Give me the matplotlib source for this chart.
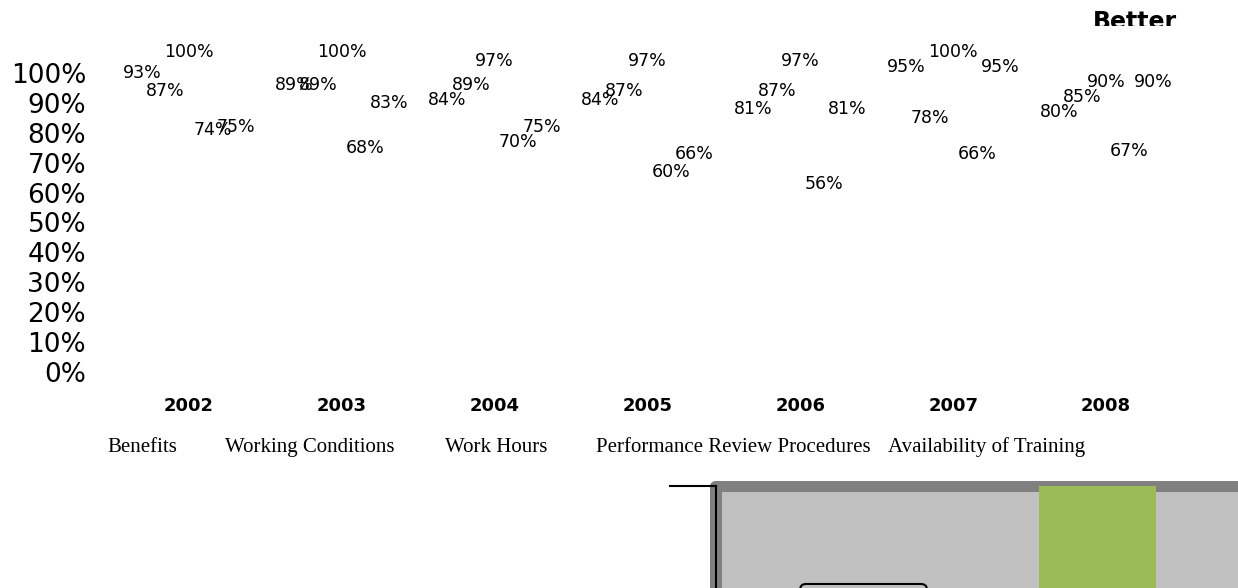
import matplotlib
matplotlib.use('Agg')
import numpy as np
from matplotlib import pyplot as plt
from matplotlib.patches import FancyBboxPatch
from matplotlib.lines import Line2D
from matplotlib.transforms import Bbox, TransformedBbox, IdentityTransform

years = ['2002', '2003', '2004', '2005', '2006', '2007', '2008']
series_names = ['Benefits', 'Working Conditions', 'Work Hours',
                'Performance Review Procedures', 'Availability of Training']
benefits = [93, 89, 84, 84, 81, 95, 80]
working_conditions = [87, 89, 89, 87, 87, 78, 85]
work_hours = [100, 100, 97, 97, 97, 100, 90]
performance_review = [74, 68, 70, 60, 56, 66, 67]
training = [75, 83, 75, 66, 81, 95, 90]
y_ticks = list(range(0, 101, 10))
green_value = [1.0]

W, H = 1238, 588
legend_left = [107, 225, 445, 596, 888]


def fx(px):
    return px / W


def fy(py):
    return 1 - py / H


def box(x0, y0, x1, y1, radius, **kw):
    # pixel coords measured from the top-left corner
    return FancyBboxPatch((x0, H - y1), x1 - x0, y1 - y0,
                          boxstyle=f'round,pad=0,rounding_size={radius}',
                          transform=IdentityTransform(), **kw)


fig = plt.figure(figsize=(12.38, 5.88), dpi=100)

# main chart: bars are invisible, only their labels show
ax = fig.add_axes([fx(112.5), fy(372), fx(1070), 299 / H])
all_series = [benefits, working_conditions, work_hours, performance_review, training]
x = np.arange(len(years))
bar_w = 0.154
for i, (name, vals) in enumerate(zip(series_names, all_series)):
    pos = x + (i - 2) * bar_w
    ax.bar(pos, vals, width=bar_w, color='none', label=name)
    for p, v in zip(pos, vals):
        ax.annotate(f'{v}%', (p, v), xytext=(0, 15), textcoords='offset points',
                    ha='center', va='center', fontsize=12.5, annotation_clip=False)

ax.set_xlim(-0.5, len(years) - 0.5)
ax.set_ylim(0, 100)
ax.set_yticks(y_ticks)
ax.set_yticklabels([f'{t}%' for t in y_ticks], fontsize=19)
ax.set_xticks(x)
ax.set_xticklabels(years, fontsize=13, fontweight='bold')
ax.tick_params(axis='y', length=0, pad=19)
ax.tick_params(axis='x', length=0, pad=18)
for s in ax.spines.values():
    s.set_visible(False)
ax.patch.set_visible(False)

# legend entries without keys, on one baseline
for name, left in zip(series_names, legend_left):
    fig.text(fx(left), fy(452), name, family='Liberation Serif', fontsize=15,
             ha='left', va='baseline')

better = fig.text(fx(1093), fy(10), 'Better', fontsize=17, fontweight='bold',
                  ha='left', va='top')
better.set_clip_box(TransformedBbox(Bbox([[fx(1080), fy(26)], [fx(1200), 1]]),
                                    fig.transFigure))
better.set_clip_on(True)

# cut-off second chart at the bottom right
fig.add_artist(box(710, 481, 1300, 650, 6, facecolor='#808080',
                   edgecolor='none', zorder=0.1))
fig.add_artist(box(722, 492, 1300, 650, 0, facecolor='#C0C0C0',
                   edgecolor='none', zorder=0.2))
fig.add_artist(box(800, 584, 927, 650, 6, facecolor='#C0C0C0',
                   edgecolor='black', linewidth=1.5, zorder=0.3))

ax2 = fig.add_axes([fx(722), fy(600), fx(538), (600 - 486) / H])
ax2.bar([0], green_value, width=1, color='#9BBB59')
ax2.set_xlim(-3.21, 1.39)
ax2.set_ylim(0, 1)
ax2.axis('off')
ax2.set_zorder(1)

fig.add_artist(Line2D([fx(670), fx(716)], [fy(486), fy(486)], color='black',
                      linewidth=1.5, zorder=2))
fig.add_artist(Line2D([fx(716), fx(716)], [fy(486), fy(600)], color='black',
                      linewidth=1.5, zorder=2))

fig.savefig('out.png', dpi=100)
